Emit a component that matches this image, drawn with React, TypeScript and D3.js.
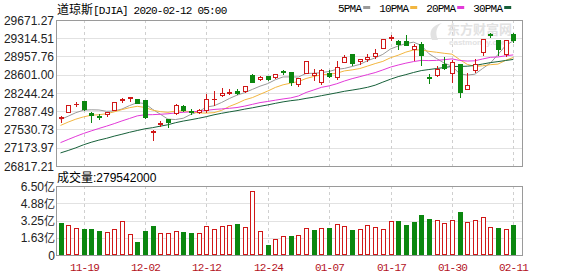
import React from 'react';
import * as d3 from 'd3';

// ---- data ----
const dates = [
  '11-14','11-15','11-18','11-19','11-20','11-21','11-22','11-25','11-26','11-27',
  '11-29','12-02','12-03','12-04','12-05','12-06','12-09','12-10','12-11','12-12',
  '12-13','12-16','12-17','12-18','12-19','12-20','12-23','12-24','12-26','12-27',
  '12-30','12-31','01-02','01-03','01-06','01-07','01-08','01-09','01-10','01-13',
  '01-14','01-15','01-16','01-17','01-21','01-22','01-23','01-24','01-27','01-28',
  '01-29','01-30','01-31','02-03','02-04','02-05','02-06','02-07','02-10','02-11',
];
const opens = [
  27757, 27870, 28025, 28085, 27845, 27800, 27830, 27920, 28100, 28150,
  28125, 28109, 27480, 27635, 27730, 27850, 27990, 27900, 27880, 27905,
  28125, 28200, 28240, 28285, 28285, 28600, 28510, 28572, 28560, 28675,
  28654, 28414, 28638, 28600, 28465, 28639, 28556, 28852, 29007, 28870,
  28900, 28960, 29131, 29313, 29260, 29263, 29110, 29208, 28560, 28600,
  28820, 28640, 28813, 28330, 28696, 29042, 29388, 29287, 29006, 29398,
];
const highs = [
  27795, 28005, 28070, 28090, 27880, 27830, 27880, 28075, 28150, 28170,
  28130, 28110, 27520, 27700, 27740, 28030, 28000, 27935, 27930, 28224,
  28290, 28337, 28320, 28320, 28380, 28610, 28582, 28576, 28625, 28701,
  28654, 28547, 28872, 28716, 28708, 28685, 28866, 28986, 29009, 28908,
  29011, 29102, 29300, 29373, 29290, 29373, 29203, 29233, 28613, 28779,
  28944, 28892, 28813, 28630, 28904, 29291, 29408, 29287, 29278, 29415,
];
const lows = [
  27680, 27865, 27985, 27910, 27680, 27730, 27790, 27915, 28065, 28090,
  28040, 27760, 27325, 27600, 27580, 27840, 27900, 27830, 27860, 27880,
  28000, 28190, 28225, 28230, 28270, 28450, 28505, 28505, 28540, 28609,
  28401, 28376, 28627, 28502, 28418, 28565, 28522, 28846, 28789, 28815,
  28866, 28923, 29120, 29289, 29104, 29176, 28895, 28800, 28440, 28574,
  28706, 28468, 28170, 28319, 28660, 28987, 29330, 28991, 28970, 29234,
];
const closes = [
  27781.96, 28004.89, 28036.22, 27934.02, 27821.09, 27766.29, 27875.62, 28066.47, 28121.68, 28164.0,
  28051.41, 27783.04, 27502.81, 27649.78, 27677.79, 28015.06, 27909.6, 27881.72, 27911.3, 28132.05,
  28135.38, 28235.89, 28267.16, 28239.28, 28376.96, 28455.09, 28551.53, 28515.45, 28621.39, 28645.26,
  28462.14, 28538.44, 28868.8, 28634.88, 28703.38, 28583.68, 28745.09, 28956.9, 28823.77, 28907.05,
  28939.67, 29030.22, 29297.64, 29348.1, 29196.04, 29186.27, 29160.09, 28989.73, 28535.8, 28722.85,
  28734.45, 28859.44, 28256.03, 28399.81, 28807.63, 29290.85, 29379.77, 29102.51, 29276.82, 29276.34,
];
// closes before the visible window (needed by the moving averages)
const priorCloses = [
  26573.72, 26478.02, 26164.04, 26346.01, 26496.67, 26816.59, 26787.36, 27024.8, 27001.98, 27025.88,
  26770.2, 26827.64, 26788.1, 26833.95, 26805.53, 26958.06, 27090.72, 27071.46, 27186.69, 27046.23,
  27347.36, 27462.11, 27492.63, 27492.56, 27674.8, 27681.24, 27691.49, 27691.49, 27783.59,
];
// volume in 亿 shares
const volumes = [
  3.04, 2.83, 2.51, 2.48, 2.48, 2.26, 2.17, 2.42, 3.2, 1.95,
  1.22, 2.26, 2.73, 2.04, 2.04, 2.26, 2.17, 2.1, 2.07, 2.73,
  2.42, 2.73, 2.83, 2.92, 2.61, 6.03, 2.26, 0.94, 1.51, 1.76,
  1.79, 1.88, 2.51, 2.36, 2.54, 2.54, 2.92, 2.73, 2.36, 2.45,
  2.83, 2.64, 2.45, 3.2, 3.2, 2.83, 3.11, 3.77, 3.39, 3.3,
  3.01, 3.3, 4.05, 3.11, 3.3, 3.55, 2.64, 2.54, 2.45, 2.795,
];
const priceTicks = [29671.27, 29314.51, 28957.76, 28601.0, 28244.24, 27887.49, 27530.73, 27173.97, 26817.21];
const volumeTicks = [0, 1.63, 3.25, 4.88, 6.5];
const volumeTickLabels = ['0', '1.63亿', '3.25亿', '4.88亿', '6.50亿'];
const dateTicks = ['11-19', '12-02', '12-12', '12-24', '01-07', '01-17', '01-30', '02-11'];
const maPeriods = [5, 10, 20, 30];
const maNames = ['5PMA', '10PMA', '20PMA', '30PMA'];
const maColors = ['#9a9a9a', '#f2b640', '#e23ad8', '#17603a'];
const titleName = '道琼斯';
const titleRest = '[DJIA] 2020-02-12 05:00';
const volumeTitle = '成交量';
const volumeValue = ':279542000';

// ---- style ----
const RED = '#d01818';
const GREEN = '#0b870f';
const SANS = 'Liberation Sans, Arial, sans-serif';
const MONO = 'Liberation Mono, DejaVu Sans Mono, monospace';
const CJK = 'Noto Sans CJK SC, sans-serif';

const W = 578, H = 276;
const L = 56, R = 522.5;
const PT = 20, PB = 166;
const VT = 186, VB = 255;

export default function App() {
  const x = d3.scaleLinear().domain([0, dates.length - 1]).range([60.5, 513.3]);
  const y = d3.scaleLinear().domain([priceTicks[priceTicks.length - 1], priceTicks[0]]).range([PB, PT]);
  const yv = d3.scaleLinear().domain([0, 6.5]).range([VB, VT]);

  const all = priorCloses.concat(closes);
  const off = priorCloses.length;
  const maSeries = maPeriods.map((p) =>
    closes.map((_, i) => d3.mean(all.slice(off + i - p + 1, off + i + 1)) as number)
  );
  const line = d3
    .line<number>()
    .x((_, i) => x(i))
    .y((d) => y(d));

  const cx = (i: number) => Math.round(x(i));
  const tickIdx = dateTicks.map((t) => dates.indexOf(t));

  // legend layout
  const charW = 5.8;
  let lx = 338;
  const legend = maNames.map((n, k) => {
    const tx = lx;
    const sx = tx + n.length * charW + 2;
    lx = sx + 7 + 9;
    return { n, tx, sx, c: maColors[k] };
  });

  return (
    <svg width={W} height={H} style={{ position: 'absolute', left: 0, top: 0, background: '#fff' }}>
      <defs>
        <clipPath id="pc">
          <rect x={L} y={PT} width={R - L} height={PB - PT} />
        </clipPath>
      </defs>

      {/* header */}
      <text x={57} y={14} fontSize={12} fill="#000">
        <tspan fontFamily={CJK}>{titleName}</tspan>
        <tspan fontFamily={MONO} fontSize={11} letterSpacing={-0.8}>{titleRest}</tspan>
      </text>
      {legend.map((l) => (
        <g key={l.n}>
          <text x={l.tx} y={12} fontFamily={MONO} fontSize={11} letterSpacing={-0.8} fill="#000">{l.n}</text>
          <rect x={l.sx} y={6} width={7} height={3} fill={l.c} />
        </g>
      ))}

      {/* price grid */}
      {priceTicks.map((t) => (
        <line key={t} x1={L} x2={R} y1={Math.round(y(t)) + 0.5} y2={Math.round(y(t)) + 0.5} stroke="#e2e2e2" />
      ))}
      {volumeTicks.map((t) => (
        <line key={t} x1={L} x2={R} y1={Math.round(yv(t)) + 0.5} y2={Math.round(yv(t)) + 0.5} stroke="#e2e2e2" />
      ))}
      {tickIdx.map((i) => (
        <g key={i}>
          <line x1={cx(i) + 0.5} x2={cx(i) + 0.5} y1={PT} y2={PB} stroke="#cfcfcf" strokeDasharray="3,3" />
          <line x1={cx(i) + 0.5} x2={cx(i) + 0.5} y1={VT} y2={VB} stroke="#cfcfcf" strokeDasharray="3,3" />
        </g>
      ))}

      {/* watermark */}
      <g clipPath="url(#pc)" fill="#e2e2e2">
        <path d="M432 40 C428 32 432 25 442 23 C436 27 435 33 438 40 Z" />
        <text x={447} y={34} fontFamily={CJK} fontSize={13} fontWeight="bold">东方财富网</text>
        <text x={449} y={45} fontFamily={SANS} fontSize={8} fontWeight="bold">eastmoney.com</text>
      </g>

      {/* moving averages */}
      <g clipPath="url(#pc)">
        {maSeries.map((s, k) => (
          <path key={k} d={line(s) || ''} fill="none" stroke={maColors[k]} strokeWidth={1} />
        ))}
      </g>

      {/* candles */}
      <g shapeRendering="crispEdges">
        {closes.map((c, i) => {
          const o = opens[i];
          const up = c >= o;
          const col = up ? RED : GREEN;
          const px = cx(i);
          const top = Math.round(y(Math.max(o, c)));
          const bot = Math.round(y(Math.min(o, c)));
          const h = bot - top;
          return (
            <g key={i}>
              <line x1={px + 0.5} x2={px + 0.5} y1={Math.round(y(highs[i]))} y2={Math.round(y(lows[i])) + 1} stroke={col} />
              {h < 1 ? (
                <line x1={px - 2} x2={px + 3} y1={top + 0.5} y2={top + 0.5} stroke={col} />
              ) : up ? (
                <rect x={px - 1.5} y={top + 0.5} width={4} height={h} fill="#fff" stroke={col} />
              ) : (
                <rect x={px - 2} y={top} width={5} height={h + 1} fill={col} />
              )}
            </g>
          );
        })}
      </g>

      {/* volume */}
      <g shapeRendering="crispEdges">
        {volumes.map((v, i) => {
          const prev = i === 0 ? priorCloses[priorCloses.length - 1] : closes[i - 1];
          const up = closes[i] >= prev;
          const px = cx(i);
          const top = Math.round(yv(v));
          return up ? (
            <rect key={i} x={px - 1.5} y={top + 0.5} width={4} height={VB - top - 1} fill="#fff" stroke={RED} />
          ) : (
            <rect key={i} x={px - 2} y={top} width={5} height={VB - top} fill={GREEN} />
          );
        })}
      </g>

      {/* borders */}
      <rect x={L + 0.5} y={PT + 0.5} width={R - L - 1} height={PB - PT} fill="none" stroke="#9a9a9a" shapeRendering="crispEdges" />
      <rect x={L + 0.5} y={VT + 0.5} width={R - L - 1} height={VB - VT} fill="none" stroke="#9a9a9a" shapeRendering="crispEdges" />

      {/* price axis labels */}
      {priceTicks.map((t) => (
        <text key={t} x={54} y={y(t) + 4.5} textAnchor="end" fontFamily={SANS} fontSize={12} fill="#222">
          {t.toFixed(2)}
        </text>
      ))}

      {/* volume title + labels */}
      <text x={57} y={182} fontSize={12} fill="#000">
        <tspan fontFamily={CJK}>{volumeTitle}</tspan>
        <tspan fontFamily={SANS}>{volumeValue}</tspan>
      </text>
      {volumeTicks.map((t, k) => (
        <text key={t} x={55} y={yv(t) + 4.5} textAnchor="end" fontFamily={SANS} fontSize={12} fill="#222">
          {volumeTickLabels[k].replace('亿', '')}
          {volumeTickLabels[k].includes('亿') ? <tspan fontFamily={CJK} fontSize={11}>亿</tspan> : null}
        </text>
      ))}

      {/* date labels */}
      {tickIdx.map((i, k) => (
        <text key={k} x={cx(i) + 0.5} y={271} textAnchor="middle" fontFamily={MONO} fontSize={11} letterSpacing={-0.8} fill="#b3121c">
          {dateTicks[k]}
        </text>
      ))}
    </svg>
  );
}
